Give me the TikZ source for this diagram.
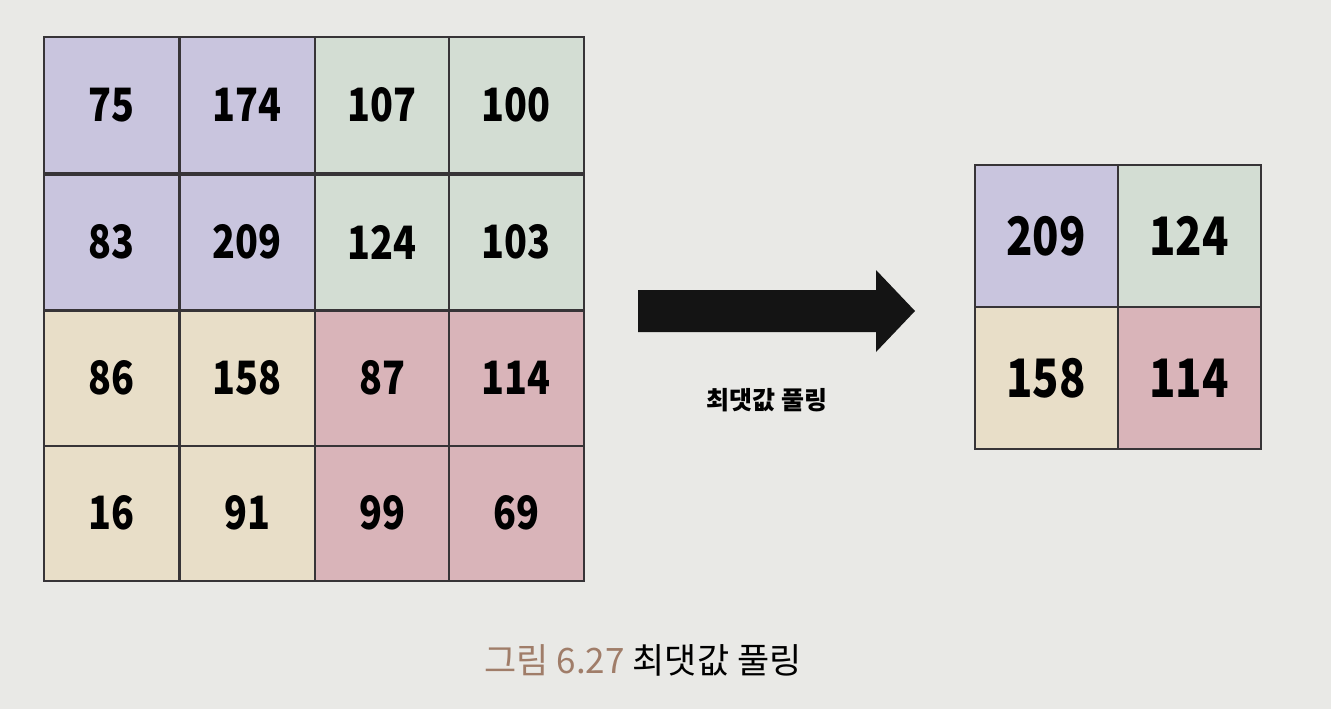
\documentclass[tikz,border=0pt]{standalone}
\usepackage{fontspec}
\newfontfamily\kr{Noto Sans CJK KR}
\newfontfamily\krnum[FakeStretch=0.82]{Noto Sans CJK KR}
\definecolor{paper}{RGB}{233,233,230}
\definecolor{cpurple}{RGB}{201,197,222}
\definecolor{cgreen}{RGB}{211,221,211}
\definecolor{cbeige}{RGB}{232,222,200}
\definecolor{cpink}{RGB}{217,180,185}
\definecolor{gridline}{RGB}{55,52,55}
\definecolor{capbrown}{RGB}{160,125,105}
\begin{document}
\begin{tikzpicture}[x=1pt,y=-1pt,
  cellL/.style={draw=gridline,line width=2pt,minimum width=135pt,minimum height=135pt,inner sep=0pt,anchor=center,
     font=\krnum\bfseries\fontsize{46}{50}\selectfont},
  cellR/.style={draw=gridline,line width=2pt,minimum width=143pt,minimum height=142pt,inner sep=0pt,anchor=center,
     font=\krnum\bfseries\fontsize{53}{58}\selectfont},
  lbltext/.style={font=\kr\bfseries\fontsize{25}{29}\selectfont,inner sep=0pt},
  captext/.style={font=\kr\fontsize{35}{40}\selectfont,inner sep=0pt}]
\fill[paper] (0,0) rectangle (1331,709);
\useasboundingbox (0,0) rectangle (1331,709);
% left grid
\node[cellL,fill=cpurple] (a11) at (111,105) {75};
\node[cellL,fill=cpurple] (a12) at (247,105) {174};
\node[cellL,fill=cgreen]  (a13) at (382,105) {107};
\node[cellL,fill=cgreen]  (a14) at (516,105) {100};
\node[cellL,fill=cpurple] (a21) at (111,242) {83};
\node[cellL,fill=cpurple] (a22) at (247,242) {209};
\node[cellL,fill=cgreen]  (a23) at (382,242) {124};
\node[cellL,fill=cgreen]  (a24) at (516,242) {103};
\node[cellL,fill=cbeige]  (a31) at (111,378) {86};
\node[cellL,fill=cbeige]  (a32) at (247,378) {158};
\node[cellL,fill=cpink]   (a33) at (382,378) {87};
\node[cellL,fill=cpink]   (a34) at (516,378) {114};
\node[cellL,fill=cbeige]  (a41) at (111,513) {16};
\node[cellL,fill=cbeige]  (a42) at (247,513) {91};
\node[cellL,fill=cpink]   (a43) at (382,513) {99};
\node[cellL,fill=cpink]   (a44) at (516,513) {69};
% right grid
\node[cellR,fill=cpurple] (b11) at (1046,236) {209};
\node[cellR,fill=cgreen]  (b12) at (1189,236) {124};
\node[cellR,fill=cbeige]  (b21) at (1046,378) {158};
\node[cellR,fill=cpink]   (b22) at (1189,378) {114};
% arrow
\fill[black!92] (638,290) -- (876,290) -- (876,270) -- (915,311) -- (876,352) -- (876,332) -- (638,332) -- cycle;
\node[lbltext] (lab) at (767,400) {최댓값 풀링};
% caption
\node[captext] (caption) at (643,660) {\textcolor{capbrown}{그림 6.27} 최댓값 풀링};
\end{tikzpicture}
\end{document}
